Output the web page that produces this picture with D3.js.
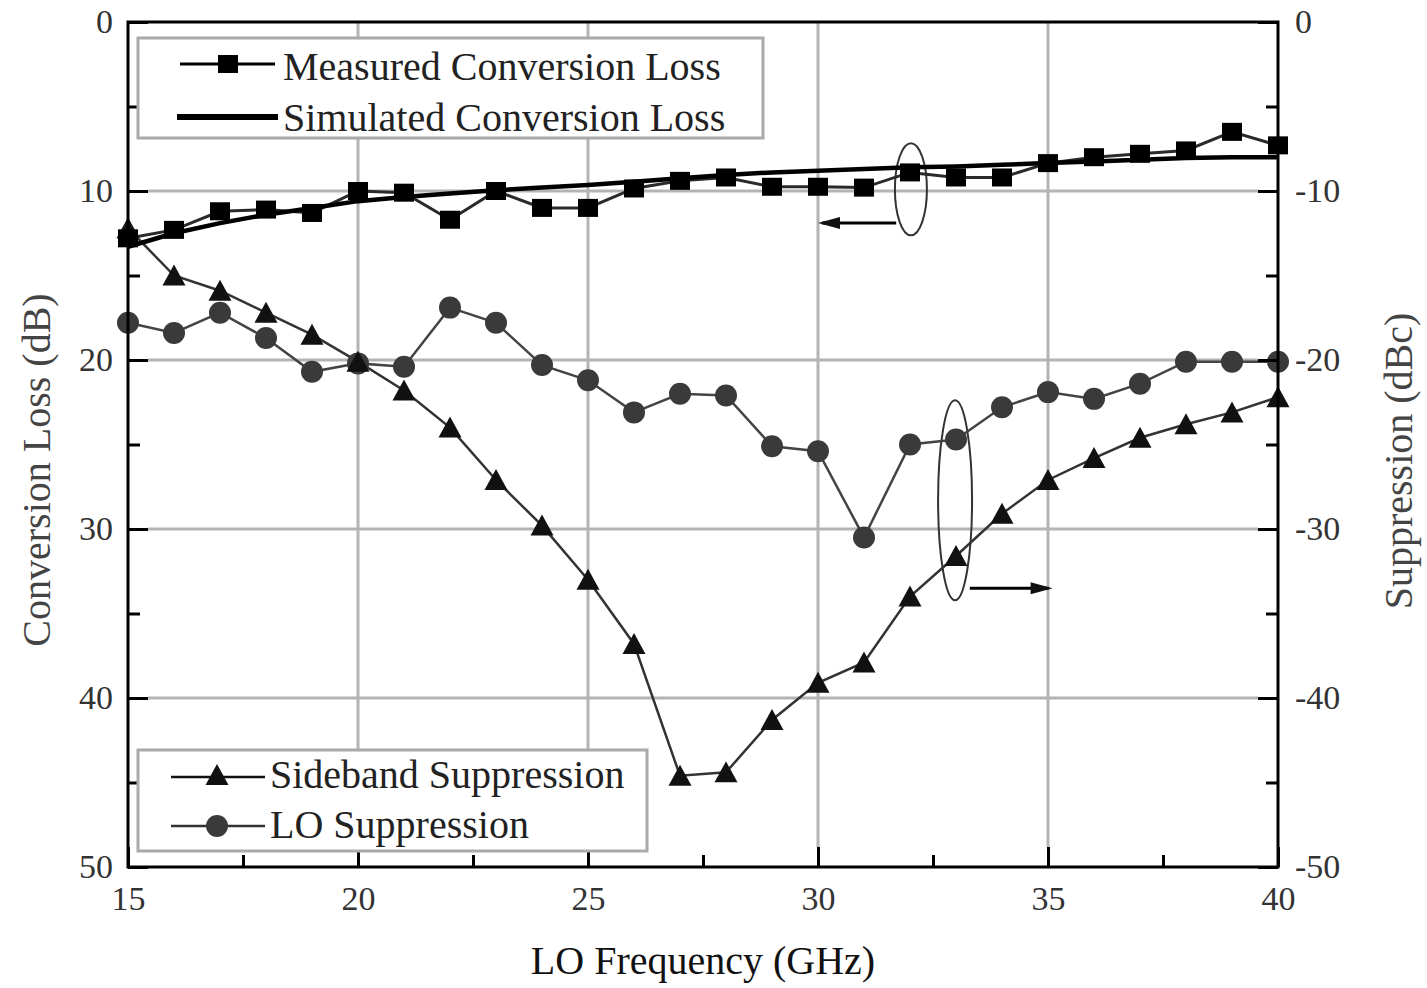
<!DOCTYPE html>
<html>
<head>
<meta charset="utf-8">
<script src="https://cdn.jsdelivr.net/npm/d3@7"></script>
<style>
  html, body { margin: 0; padding: 0; background: #fff; }
  svg { display: block; }
  text { font-family: "Liberation Serif", "Times New Roman", serif; }
</style>
</head>
<body>
<svg id="chart" width="1427" height="988"></svg>
<script>
// ---------- data ----------
const freqGHz = [15,16,17,18,19,20,21,22,23,24,25,26,27,28,29,30,31,32,33,34,35,36,37,38,39,40];
const measuredLoss = [12.8,12.3,11.2,11.1,11.3,10.0,10.1,11.7,10.0,11.0,11.0,9.85,9.4,9.2,9.75,9.75,9.8,8.9,9.2,9.2,8.35,8.0,7.8,7.6,6.5,7.3];
const simulatedLoss = [13.3,12.5,11.9,11.4,11.0,10.6,10.35,10.15,9.95,9.8,9.65,9.45,9.25,9.05,8.9,8.8,8.7,8.6,8.55,8.45,8.35,8.25,8.15,8.05,8.0,8.0];
const sidebandSupp = [-12.2,-15.0,-15.9,-17.2,-18.5,-20.1,-21.8,-24.0,-27.1,-29.8,-33.0,-36.8,-44.6,-44.4,-41.3,-39.1,-37.9,-34.0,-31.6,-29.1,-27.1,-25.8,-24.6,-23.8,-23.1,-22.2];
const loSupp = [-17.8,-18.4,-17.2,-18.7,-20.7,-20.2,-20.4,-16.9,-17.8,-20.3,-21.2,-23.1,-22.0,-22.1,-25.1,-25.4,-30.5,-25.0,-24.7,-22.8,-21.9,-22.3,-21.4,-20.1,-20.1,-20.1];

const xTicks = [15,20,25,30,35,40];
const xMinorTicks = [17.5,22.5,27.5,32.5,37.5];
const yLeftTicks = [0,10,20,30,40,50];
const yLeftMinor = [5,15,25,35,45];
const yRightTicks = [0,-10,-20,-30,-40,-50];
const yRightMinor = [-5,-15,-25,-35,-45];

const xLabel = "LO Frequency (GHz)";
const yLeftLabel = "Conversion Loss (dB)";
const yRightLabel = "Suppression (dBc)";
const legendTop = ["Measured Conversion Loss", "Simulated Conversion Loss"];
const legendBottom = ["Sideband Suppression", "LO Suppression"];

// ---------- layout ----------
const L = 128, R = 1278, T = 22, B = 867;
const svg = d3.select("#chart");
const x = d3.scaleLinear().domain([15, 40]).range([L, R]);
const yL = d3.scaleLinear().domain([0, 50]).range([T, B]);
const yR = d3.scaleLinear().domain([0, -50]).range([T, B]);

const gridColor = "#b4b4b4";

// gridlines
const grid = svg.append("g");
grid.selectAll("line.vg").data(xTicks.slice(1, -1)).join("line")
  .attr("x1", d => x(d)).attr("x2", d => x(d))
  .attr("y1", T).attr("y2", B - 20)
  .attr("stroke", gridColor).attr("stroke-width", 3);
grid.selectAll("line.hg").data(yLeftTicks.slice(1, -1)).join("line")
  .attr("x1", L + 20).attr("x2", R - 20)
  .attr("y1", d => yL(d)).attr("y2", d => yL(d))
  .attr("stroke", gridColor).attr("stroke-width", 3);

// annotations (ellipses + arrows)
const ann = svg.append("g").attr("fill", "none").attr("stroke", "#333").attr("stroke-width", 2);
ann.append("ellipse").attr("cx", x(32.02)).attr("cy", yL(9.9)).attr("rx", 16).attr("ry", 46);
ann.append("line").attr("x1", x(31.7)).attr("x2", x(30.0) + 4).attr("y1", yL(11.9)).attr("y2", yL(11.9)).attr("stroke-width", 3).attr("stroke", "#000");
svg.append("path")
  .attr("d", `M${x(30.0)},${yL(11.9)} l22,-6 l0,12 Z`).attr("fill", "#111");
ann.append("ellipse").attr("cx", x(32.98)).attr("cy", yR(-28.3)).attr("rx", 17).attr("ry", 100);
ann.append("line").attr("x1", x(33.3)).attr("x2", x(35.1) - 4).attr("y1", yR(-33.5)).attr("y2", yR(-33.5)).attr("stroke-width", 3).attr("stroke", "#000");
svg.append("path")
  .attr("d", `M${x(35.1)},${yR(-33.5)} l-22,-6 l0,12 Z`).attr("fill", "#111");

// ---------- series ----------
const lineL = vals => d3.line().x((d, i) => x(freqGHz[i])).y(d => yL(d))(vals);
const lineR = vals => d3.line().x((d, i) => x(freqGHz[i])).y(d => yR(d))(vals);

svg.append("path").attr("d", lineR(loSupp)).attr("fill", "none").attr("stroke", "#444").attr("stroke-width", 2.5);
svg.append("path").attr("d", lineR(sidebandSupp)).attr("fill", "none").attr("stroke", "#333").attr("stroke-width", 2.5);
svg.append("path").attr("d", lineL(measuredLoss)).attr("fill", "none").attr("stroke", "#2a2a2a").attr("stroke-width", 3);
svg.append("path").attr("d", lineL(simulatedLoss)).attr("fill", "none").attr("stroke", "#000").attr("stroke-width", 4.5);

const triPath = "M0,-11 L11.5,10 L-11.5,10 Z";
svg.append("g").selectAll("circle").data(loSupp).join("circle")
  .attr("cx", (d, i) => x(freqGHz[i])).attr("cy", d => yR(d)).attr("r", 11).attr("fill", "#3a3a3a");
svg.append("g").selectAll("path").data(sidebandSupp).join("path")
  .attr("d", triPath).attr("transform", (d, i) => `translate(${x(freqGHz[i])},${yR(d)})`).attr("fill", "#111");
svg.append("g").selectAll("rect").data(measuredLoss).join("rect")
  .attr("x", (d, i) => x(freqGHz[i]) - 10).attr("y", d => yL(d) - 9)
  .attr("width", 20).attr("height", 18).attr("fill", "#000");

// ---------- axes ----------
function styleAxis(g, fs) {
  g.select(".domain").remove();
  g.selectAll(".tick line").attr("stroke", "#000").attr("stroke-width", 3);
  g.selectAll(".tick text").attr("font-size", fs).attr("fill", "#333")
    .attr("font-family", '"Liberation Serif", "Times New Roman", serif');
}
const axB = svg.append("g").attr("transform", `translate(0,${B})`)
  .call(d3.axisBottom(x).tickValues(xTicks).tickFormat(d3.format("d")).tickSize(-20).tickSizeOuter(0).tickPadding(19));
styleAxis(axB, 34);
const axBm = svg.append("g").attr("transform", `translate(0,${B})`)
  .call(d3.axisBottom(x).tickValues(xMinorTicks).tickFormat("").tickSize(-12).tickSizeOuter(0));
styleAxis(axBm, 1);

const axL = svg.append("g").attr("transform", `translate(${L},0)`)
  .call(d3.axisLeft(yL).tickValues(yLeftTicks).tickFormat(d3.format("d")).tickSize(-20).tickSizeOuter(0).tickPadding(15));
styleAxis(axL, 34);
const axLm = svg.append("g").attr("transform", `translate(${L},0)`)
  .call(d3.axisLeft(yL).tickValues(yLeftMinor).tickFormat("").tickSize(-12).tickSizeOuter(0));
styleAxis(axLm, 1);

const axR = svg.append("g").attr("transform", `translate(${R},0)`)
  .call(d3.axisRight(yR).tickValues(yRightTicks).tickFormat(d => d3.format("d")(d).replace("\u2212", "-")).tickSize(-20).tickSizeOuter(0).tickPadding(17));
styleAxis(axR, 34);
const axRm = svg.append("g").attr("transform", `translate(${R},0)`)
  .call(d3.axisRight(yR).tickValues(yRightMinor).tickFormat("").tickSize(-12).tickSizeOuter(0));
styleAxis(axRm, 1);

// frame
svg.append("rect").attr("x", L).attr("y", T).attr("width", R - L).attr("height", B - T)
  .attr("fill", "none").attr("stroke", "#000").attr("stroke-width", 3);

// axis titles
svg.append("text").attr("x", (L + R) / 2).attr("y", 974).attr("text-anchor", "middle")
  .attr("font-size", 40).attr("fill", "#111").text(xLabel);
svg.append("text").attr("transform", `translate(36,470) rotate(-90)`).attr("text-anchor", "middle")
  .attr("dominant-baseline", "central").attr("font-size", 40).attr("fill", "#444").text(yLeftLabel);
svg.append("text").attr("transform", `translate(1398,461) rotate(-90)`).attr("text-anchor", "middle")
  .attr("dominant-baseline", "central").attr("font-size", 40).attr("fill", "#444").text(yRightLabel);

// ---------- legends ----------
function legendBox(x0, y0, w, h) {
  svg.append("rect").attr("x", x0).attr("y", y0).attr("width", w).attr("height", h)
    .attr("fill", "#fff").attr("stroke", "#aaa").attr("stroke-width", 3);
}
legendBox(138, 38, 625, 100);
// measured
svg.append("line").attr("x1", 180).attr("x2", 275).attr("y1", 64).attr("y2", 64).attr("stroke", "#000").attr("stroke-width", 3);
svg.append("rect").attr("x", 218).attr("y", 55).attr("width", 20).attr("height", 18).attr("fill", "#000");
svg.append("text").attr("x", 283).attr("y", 80).attr("font-size", 40).attr("fill", "#222").text(legendTop[0]);
// simulated
svg.append("line").attr("x1", 177).attr("x2", 278).attr("y1", 117).attr("y2", 117).attr("stroke", "#000").attr("stroke-width", 6);
svg.append("text").attr("x", 283).attr("y", 131).attr("font-size", 40).attr("fill", "#222").text(legendTop[1]);

legendBox(138, 750, 509, 101);
svg.append("line").attr("x1", 171).attr("x2", 265).attr("y1", 777).attr("y2", 777).attr("stroke", "#111").attr("stroke-width", 2.5);
svg.append("path").attr("d", triPath).attr("transform", "translate(217,775)").attr("fill", "#111");
svg.append("text").attr("x", 270).attr("y", 788).attr("font-size", 40).attr("fill", "#222").text(legendBottom[0]);
svg.append("line").attr("x1", 171).attr("x2", 265).attr("y1", 826).attr("y2", 826).attr("stroke", "#333").attr("stroke-width", 2.5);
svg.append("circle").attr("cx", 217).attr("cy", 826).attr("r", 11).attr("fill", "#3a3a3a");
svg.append("text").attr("x", 270).attr("y", 838).attr("font-size", 40).attr("fill", "#222").text(legendBottom[1]);
</script>
</body>
</html>
